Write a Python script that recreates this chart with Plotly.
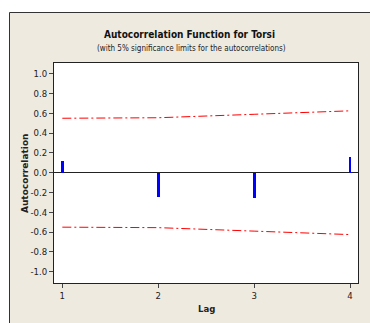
import plotly.graph_objects as go

lags = [1, 2, 3, 4]
acf = [0.12, -0.25, -0.26, 0.16]
upper_limit = [0.55, 0.555, 0.59, 0.625]
lower_limit = [-0.55, -0.555, -0.59, -0.625]
ytick_vals = [-1.0, -0.8, -0.6, -0.4, -0.2, 0.0, 0.2, 0.4, 0.6, 0.8, 1.0]
ytick_text = ["-1.0", "-0.8", "-0.6", "-0.4", "-0.2", "0.0", "0.2", "0.4", "0.6", "0.8", "1.0"]
xtick_vals = [1, 2, 3, 4]

# body margin is removed in post_script, so lay out directly in window pixels
OFF = 0
W, H = 370, 323
L, R, T, B = 54 - OFF, 358 - OFF, 63 - OFF, 283 - OFF
pw, ph = R - L, B - T

def px(x):
    return (x - OFF - L) / pw

def py(y):
    return (B - (y - OFF)) / ph

BEIGE = "#EEEAE0"
TXT = "#222222"
NARROW = "DejaVu Sans Condensed, Liberation Sans, sans-serif"

fig = go.Figure()
fig.add_trace(go.Bar(x=lags, y=acf, width=0.03, marker=dict(color="#0000FF", line=dict(width=0)),
                     showlegend=False))
fig.add_trace(go.Scatter(x=lags, y=upper_limit, mode="lines",
                         line=dict(color="#FF0000", width=1, dash="9px,3px,2px,3px"), showlegend=False))
fig.add_trace(go.Scatter(x=lags, y=lower_limit, mode="lines",
                         line=dict(color="#FF0000", width=1, dash="9px,3px,2px,3px"), showlegend=False))

shapes = [
    dict(type="rect", xref="paper", yref="paper", x0=px(9.5), x1=px(400), y0=py(350), y1=py(12.5),
         fillcolor=BEIGE, line=dict(width=0), layer="below"),
    dict(type="line", xref="paper", yref="paper", x0=px(9.5), x1=px(400), y0=py(12.5), y1=py(12.5),
         line=dict(color="#333333", width=1), layer="below"),
    dict(type="line", xref="paper", yref="paper", x0=px(9.5), x1=px(9.5), y0=py(12.5), y1=py(350),
         line=dict(color="#333333", width=1), layer="below"),
    dict(type="rect", xref="paper", yref="paper", x0=0, x1=1, y0=0, y1=1,
         fillcolor="white", line=dict(width=0), layer="below"),
]

annotations = [
    dict(text="<b>Autocorrelation Function for Torsi</b>", x=px(189), y=py(34), xref="paper", yref="paper",
         showarrow=False, font=dict(family=NARROW, size=10, color="#111111"), xanchor="center", yanchor="middle"),
    dict(text="(with 5% significance limits for the autocorrelations)", x=px(191), y=py(48.5), xref="paper", yref="paper",
         showarrow=False, font=dict(family=NARROW, size=8, color=TXT), xanchor="center", yanchor="middle"),
    dict(text="<b>Autocorrelation</b>", x=px(25), y=py(173), xref="paper", yref="paper", textangle=-90,
         showarrow=False, font=dict(family="DejaVu Sans", size=9, color=TXT), xanchor="center", yanchor="middle"),
    dict(text="<b>Lag</b>", x=px(206), y=py(308), xref="paper", yref="paper",
         showarrow=False, font=dict(family=NARROW, size=9.5, color=TXT), xanchor="center", yanchor="middle"),
]

fig.update_layout(
    width=W, height=H,
    margin=dict(l=L, r=W - R, t=T, b=H - B, pad=0, autoexpand=False),
    paper_bgcolor="white", plot_bgcolor="rgba(0,0,0,0)",
    shapes=shapes, annotations=annotations,
    hovermode=False,
    xaxis=dict(range=[0.913, 4.083], tickvals=xtick_vals, ticktext=[str(v) for v in xtick_vals],
               automargin=False,
               showgrid=False, zeroline=False, showline=True, mirror=True, linecolor="#222222", linewidth=1,
               ticks="outside", ticklen=4, tickcolor="#444444",
               tickfont=dict(family=NARROW, size=9.5, color=TXT)),
    yaxis=dict(range=[-1.114, 1.108], tickvals=ytick_vals, ticktext=ytick_text,
               automargin=False,
               showgrid=False, zeroline=True, zerolinecolor="#222222", zerolinewidth=1,
               showline=True, mirror=True, linecolor="#222222", linewidth=1,
               ticks="outside", ticklen=4, tickcolor="#444444",
               tickfont=dict(family=NARROW, size=9.5, color=TXT)),
    bargap=0,
)

fig.write_html(
    "out.html",
    config={"displayModeBar": False},
    post_script="document.body.style.margin='0';document.documentElement.style.overflow='hidden';document.body.style.overflow='hidden';",
)
